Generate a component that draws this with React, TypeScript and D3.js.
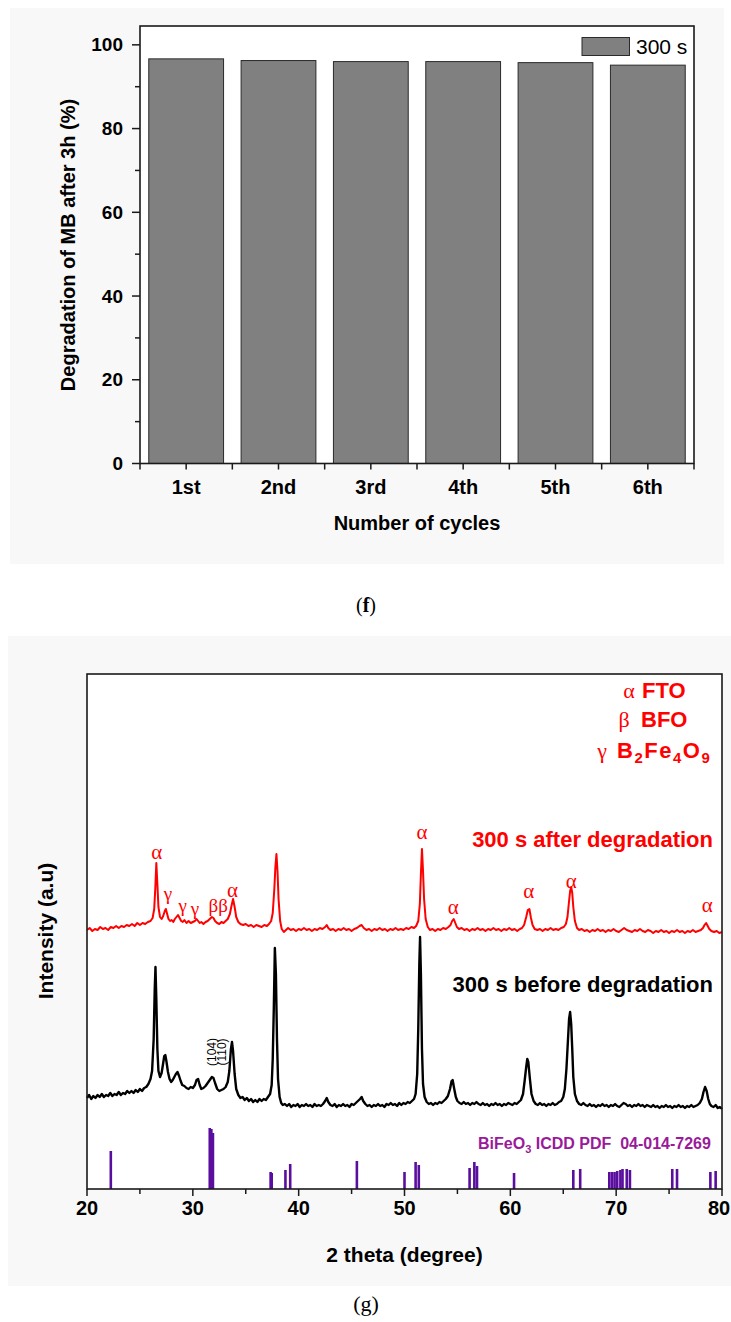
import * as d3 from "d3";

// ---- panel (f): cycling test ----
const cycles = ["1st", "2nd", "3rd", "4th", "5th", "6th"];
const degradation = [96.65, 96.25, 96.0, 96.0, 95.75, 95.15];
const fTicks = [0, 20, 40, 60, 80, 100];
const fMinor = [10, 30, 50, 70, 90];

// ---- panel (g): XRD patterns, [2theta, intensity a.u.] ----
const afterDeg: [number, number][] = [
  [20.0, 259], [20.25, 261], [20.5, 258], [20.75, 260], [21.0, 259], [21.25, 262], [21.5, 260], [21.75, 261],
  [22.0, 259], [22.25, 262], [22.5, 261], [22.75, 263], [23.0, 261], [23.25, 263], [23.5, 262], [23.75, 264],
  [24.0, 263], [24.25, 265], [24.5, 263], [24.75, 266], [25.0, 264], [25.25, 266], [25.5, 265], [25.75, 267],
  [26.0, 268], [26.2, 271], [26.35, 280], [26.45, 300], [26.55, 326], [26.65, 305], [26.75, 282], [26.9, 272],
  [27.05, 270], [27.2, 273], [27.35, 278], [27.45, 280], [27.55, 276], [27.7, 270], [27.85, 268], [28.0, 269],
  [28.15, 267], [28.3, 270], [28.45, 272], [28.6, 274], [28.75, 271], [28.9, 268], [29.05, 267], [29.2, 269],
  [29.4, 266], [29.6, 268], [29.8, 266], [30.0, 267], [30.2, 268], [30.35, 270], [30.5, 268], [30.65, 266],
  [30.8, 267], [31.0, 265], [31.2, 267], [31.4, 268], [31.6, 270], [31.8, 272], [31.95, 271], [32.1, 268],
  [32.3, 266], [32.5, 265], [32.7, 267], [32.9, 266], [33.1, 268], [33.3, 270], [33.5, 275], [33.65, 283],
  [33.8, 290], [33.95, 282], [34.1, 272], [34.3, 267], [34.5, 265], [34.75, 264], [35.0, 265], [35.25, 263],
  [35.5, 264], [35.75, 262], [36.0, 264], [36.25, 263], [36.5, 262], [36.75, 264], [37.0, 263], [37.2, 265],
  [37.4, 268], [37.55, 276], [37.7, 300], [37.8, 322], [37.9, 335], [38.0, 318], [38.1, 290], [38.25, 268],
  [38.4, 260], [38.6, 257], [38.8, 259], [39.0, 261], [39.25, 259], [39.5, 260], [39.75, 258], [40.0, 260],
  [40.25, 259], [40.5, 261], [40.75, 259], [41.0, 260], [41.25, 258], [41.5, 260], [41.75, 259], [42.0, 261],
  [42.25, 260], [42.5, 262], [42.65, 264], [42.8, 261], [43.0, 259], [43.25, 260], [43.5, 258], [43.75, 260],
  [44.0, 259], [44.25, 261], [44.5, 259], [44.75, 260], [45.0, 258], [45.25, 260], [45.5, 261], [45.75, 263],
  [45.95, 264], [46.15, 261], [46.4, 259], [46.65, 260], [46.9, 258], [47.15, 260], [47.4, 259], [47.65, 261],
  [47.9, 259], [48.15, 260], [48.4, 258], [48.65, 260], [48.9, 259], [49.15, 261], [49.4, 259], [49.65, 260],
  [49.9, 259], [50.15, 261], [50.4, 260], [50.65, 262], [50.9, 261], [51.1, 263], [51.3, 268], [51.45, 285],
  [51.55, 315], [51.65, 340], [51.75, 318], [51.85, 290], [52.0, 270], [52.2, 262], [52.4, 259], [52.65, 260],
  [52.9, 258], [53.15, 260], [53.4, 259], [53.65, 261], [53.9, 260], [54.15, 262], [54.35, 264], [54.5, 268],
  [54.65, 270], [54.8, 266], [54.95, 262], [55.15, 260], [55.4, 261], [55.65, 259], [55.9, 260], [56.15, 258],
  [56.4, 260], [56.65, 259], [56.9, 261], [57.15, 259], [57.4, 260], [57.65, 258], [57.9, 260], [58.15, 259],
  [58.4, 261], [58.65, 259], [58.9, 260], [59.15, 258], [59.4, 260], [59.65, 259], [59.9, 261], [60.15, 259],
  [60.4, 260], [60.65, 258], [60.9, 260], [61.1, 261], [61.3, 264], [61.5, 272], [61.65, 279], [61.8, 280],
  [61.95, 271], [62.1, 264], [62.3, 260], [62.55, 259], [62.8, 260], [63.05, 258], [63.3, 260], [63.55, 259],
  [63.8, 261], [64.05, 259], [64.3, 260], [64.55, 259], [64.8, 261], [65.05, 262], [65.25, 265], [65.4, 272],
  [65.55, 288], [65.65, 298], [65.75, 302], [65.85, 296], [65.95, 282], [66.1, 268], [66.3, 261], [66.5, 259],
  [66.75, 260], [67.0, 258], [67.25, 259], [67.5, 257], [67.75, 259], [68.0, 258], [68.25, 260], [68.5, 258],
  [68.75, 259], [69.0, 257], [69.25, 259], [69.5, 258], [69.75, 260], [70.0, 258], [70.25, 257], [70.5, 259],
  [70.75, 261], [71.0, 259], [71.25, 258], [71.5, 257], [71.75, 259], [72.0, 258], [72.25, 260], [72.5, 258],
  [72.75, 257], [73.0, 259], [73.25, 258], [73.5, 256], [73.75, 258], [74.0, 257], [74.25, 259], [74.5, 257],
  [74.75, 258], [75.0, 256], [75.25, 258], [75.5, 257], [75.75, 259], [76.0, 257], [76.25, 258], [76.5, 256],
  [76.75, 258], [77.0, 257], [77.25, 259], [77.5, 257], [77.75, 258], [78.0, 259], [78.2, 261], [78.35, 264],
  [78.5, 266], [78.65, 263], [78.8, 260], [79.0, 258], [79.25, 257], [79.5, 258], [79.75, 256], [80.0, 257],
];

const beforeDeg: [number, number][] = [
  [20.0, 91], [20.2, 94], [20.4, 90], [20.6, 93], [20.8, 91], [21.0, 94], [21.2, 92], [21.4, 95], [21.6, 92],
  [21.8, 94], [22.0, 93], [22.2, 96], [22.4, 93], [22.6, 95], [22.8, 94], [23.0, 97], [23.2, 94], [23.4, 96],
  [23.6, 95], [23.8, 98], [24.0, 96], [24.2, 98], [24.4, 96], [24.6, 99], [24.8, 97], [25.0, 100], [25.2, 98],
  [25.4, 101], [25.6, 102], [25.8, 105], [26.0, 110], [26.15, 118], [26.3, 150], [26.4, 200], [26.47, 222],
  [26.55, 190], [26.65, 140], [26.75, 118], [26.9, 112], [27.05, 116], [27.2, 126], [27.3, 133], [27.4, 134],
  [27.5, 128], [27.65, 117], [27.8, 110], [27.95, 107], [28.1, 109], [28.25, 112], [28.4, 115], [28.55, 117],
  [28.7, 113], [28.85, 108], [29.0, 104], [29.2, 103], [29.4, 101], [29.6, 100], [29.8, 102], [30.0, 101],
  [30.2, 104], [30.35, 109], [30.5, 110], [30.65, 104], [30.8, 100], [31.0, 101], [31.2, 103], [31.4, 106],
  [31.6, 109], [31.8, 112], [31.95, 111], [32.1, 106], [32.3, 100], [32.5, 98], [32.7, 99], [32.9, 100],
  [33.1, 102], [33.3, 107], [33.45, 118], [33.6, 140], [33.7, 147], [33.8, 138], [33.95, 115], [34.1, 100],
  [34.3, 94], [34.5, 91], [34.7, 92], [34.9, 89], [35.1, 91], [35.3, 88], [35.5, 90], [35.7, 87], [35.9, 89],
  [36.1, 87], [36.3, 90], [36.5, 88], [36.7, 90], [36.9, 89], [37.1, 92], [37.3, 95], [37.45, 104], [37.55, 130],
  [37.65, 180], [37.75, 241], [37.85, 215], [37.95, 150], [38.05, 110], [38.2, 92], [38.35, 86], [38.5, 84],
  [38.7, 85], [38.9, 83], [39.1, 85], [39.3, 82], [39.5, 84], [39.7, 83], [39.9, 85], [40.1, 82], [40.3, 84],
  [40.5, 83], [40.7, 85], [40.9, 83], [41.1, 84], [41.3, 82], [41.5, 85], [41.7, 83], [41.9, 84], [42.1, 83],
  [42.3, 85], [42.5, 88], [42.65, 91], [42.8, 87], [43.0, 84], [43.2, 83], [43.4, 85], [43.6, 82], [43.8, 84],
  [44.0, 83], [44.2, 85], [44.4, 83], [44.6, 84], [44.8, 82], [45.0, 85], [45.2, 84], [45.4, 86], [45.6, 88],
  [45.8, 90], [45.95, 92], [46.1, 88], [46.3, 85], [46.5, 83], [46.7, 84], [46.9, 82], [47.1, 84], [47.3, 83],
  [47.5, 85], [47.7, 83], [47.9, 84], [48.1, 82], [48.3, 85], [48.5, 84], [48.7, 86], [48.9, 84], [49.1, 85],
  [49.3, 83], [49.5, 86], [49.7, 84], [49.9, 86], [50.1, 85], [50.3, 87], [50.5, 86], [50.7, 88], [50.9, 90],
  [51.05, 95], [51.2, 115], [51.3, 160], [51.4, 225], [51.47, 252], [51.55, 215], [51.65, 140], [51.75, 105],
  [51.9, 92], [52.1, 87], [52.3, 85], [52.5, 86], [52.7, 84], [52.9, 86], [53.1, 85], [53.3, 87], [53.5, 86],
  [53.7, 88], [53.9, 90], [54.1, 93], [54.3, 100], [54.45, 108], [54.55, 109], [54.7, 100], [54.85, 92],
  [55.0, 88], [55.2, 86], [55.4, 85], [55.6, 87], [55.8, 85], [56.0, 86], [56.2, 84], [56.4, 86], [56.6, 85],
  [56.8, 87], [57.0, 85], [57.2, 84], [57.4, 86], [57.6, 84], [57.8, 85], [58.0, 83], [58.2, 85], [58.4, 84],
  [58.6, 86], [58.8, 84], [59.0, 85], [59.2, 83], [59.4, 85], [59.6, 84], [59.8, 86], [60.0, 85], [60.2, 84],
  [60.4, 86], [60.6, 85], [60.8, 87], [61.0, 89], [61.2, 95], [61.35, 108], [61.5, 122], [61.6, 130],
  [61.7, 127], [61.85, 110], [62.0, 95], [62.2, 88], [62.4, 85], [62.6, 84], [62.8, 86], [63.0, 84], [63.2, 85],
  [63.4, 83], [63.6, 85], [63.8, 84], [64.0, 86], [64.2, 84], [64.4, 85], [64.6, 87], [64.8, 88], [65.0, 92],
  [65.15, 100], [65.3, 120], [65.45, 150], [65.55, 170], [65.65, 177], [65.75, 165], [65.85, 140], [65.95, 112],
  [66.1, 95], [66.3, 88], [66.5, 85], [66.7, 84], [66.9, 86], [67.1, 84], [67.3, 83], [67.5, 85], [67.7, 83],
  [67.9, 84], [68.1, 82], [68.3, 84], [68.5, 83], [68.7, 85], [68.9, 83], [69.1, 84], [69.3, 82], [69.5, 84],
  [69.7, 83], [69.9, 85], [70.1, 83], [70.3, 82], [70.5, 84], [70.7, 86], [70.9, 85], [71.1, 83], [71.3, 84],
  [71.5, 82], [71.7, 84], [71.9, 83], [72.1, 85], [72.3, 83], [72.5, 84], [72.7, 82], [72.9, 84], [73.1, 83],
  [73.3, 82], [73.5, 84], [73.7, 82], [73.9, 83], [74.1, 81], [74.3, 83], [74.5, 82], [74.7, 84], [74.9, 82],
  [75.1, 83], [75.3, 81], [75.5, 83], [75.7, 82], [75.9, 84], [76.1, 82], [76.3, 83], [76.5, 81], [76.7, 83],
  [76.9, 82], [77.1, 84], [77.3, 82], [77.5, 83], [77.7, 84], [77.9, 86], [78.1, 90], [78.25, 97], [78.4, 102],
  [78.55, 98], [78.7, 90], [78.85, 85], [79.0, 83], [79.2, 82], [79.4, 84], [79.6, 81], [79.8, 82], [80.0, 80],
];

// BiFeO3 reference lines (ICDD 04-014-7269)
const refPos = [22.25, 31.6, 31.75, 31.9, 37.35, 37.45, 38.75, 39.2, 45.5, 50.0, 51.05, 51.35, 56.15, 56.6, 56.85,
  60.35, 65.95, 66.6, 69.35, 69.6, 69.85, 70.1, 70.4, 70.6, 71.0, 71.3, 75.3, 75.75, 78.9, 79.4];
const refInt = [38, 61, 60, 56, 17, 16, 19, 25, 28, 17, 27, 24, 21, 27, 23,
  16, 19, 20, 17, 17, 17, 18, 19, 20, 20, 19, 20, 20, 17, 18];

// phase markers on the "after" pattern: symbol, 2theta, intensity level
const markSym = ["α", "γ", "γ", "γ", "ββ", "α", "α", "α", "α", "α", "α"];
const markPos = [26.6, 27.65, 29.05, 30.2, 32.4, 33.75, 51.65, 54.6, 61.75, 65.75, 78.6];
const markInt = [337, 296, 284, 281, 284, 299, 357, 282, 298, 308, 284];

const gTicks = [20, 30, 40, 50, 60, 70, 80];
const gMinor = [25, 35, 45, 55, 65, 75];

const SANS = "'Liberation Sans', Arial, Helvetica, sans-serif";
const SERIF = "'Liberation Serif', 'Times New Roman', serif";

export default function App() {
  // panel f scales
  const fx = d3.scaleBand<string>().domain(cycles).range([140, 694]).paddingInner(0.19).paddingOuter(0.095);
  const fy = d3.scaleLinear().domain([0, 104.5]).range([463.5, 26]);
  const step = fx.step();

  // panel g scales
  const gx = d3.scaleLinear().domain([20, 80]).range([87, 722]);
  const gy = d3.scaleLinear().domain([0, 515]).range([1189, 674]);
  const line = d3.line<[number, number]>().x((d) => gx(d[0])).y((d) => gy(d[1]));

  const bold = { fontFamily: SANS, fontWeight: 700 } as const;

  return (
    <svg
      width={731}
      height={1322}
      style={{ position: "absolute", left: 0, top: 0, display: "block", background: "#fff" }}
    >
      {/* figure backgrounds */}
      <rect x={10} y={8} width={714} height={556} fill="#f8f8f8" />
      <rect x={8} y={636} width={723} height={650} fill="#f8f8f8" />

      {/* ================= panel f ================= */}
      <rect x={140} y={26} width={554} height={437.5} fill="#fff" />
      {cycles.map((c, i) => (
        <rect
          key={c}
          x={fx(c)}
          y={fy(degradation[i])}
          width={fx.bandwidth()}
          height={fy(0) - fy(degradation[i])}
          fill="#808080"
          stroke="#2a2a2a"
          strokeWidth={1}
        />
      ))}
      <rect x={140} y={26} width={554} height={437.5} fill="none" stroke="#1a1a1a" strokeWidth={1.6} />
      {fTicks.map((t) => (
        <g key={t}>
          <line x1={132} x2={140} y1={fy(t)} y2={fy(t)} stroke="#1a1a1a" strokeWidth={1.5} />
          <text x={123} y={fy(t)} textAnchor="end" dominantBaseline="central" fontSize={19} {...bold}>
            {t}
          </text>
        </g>
      ))}
      {fMinor.map((t) => (
        <line key={t} x1={135} x2={140} y1={fy(t)} y2={fy(t)} stroke="#1a1a1a" strokeWidth={1.5} />
      ))}
      {d3.range(0, 7).map((i) => (
        <line key={i} x1={140 + i * step} x2={140 + i * step} y1={463.5} y2={469.5} stroke="#1a1a1a" strokeWidth={1.5} />
      ))}
      {cycles.map((c) => (
        <g key={c}>
          <line
            x1={fx(c)! + fx.bandwidth() / 2}
            x2={fx(c)! + fx.bandwidth() / 2}
            y1={463.5}
            y2={469.5}
            stroke="#1a1a1a"
            strokeWidth={1.5}
          />
          <text x={fx(c)! + fx.bandwidth() / 2} y={494} textAnchor="middle" fontSize={20} {...bold}>
            {c}
          </text>
        </g>
      ))}
      <text x={417} y={530} textAnchor="middle" fontSize={20} {...bold}>
        Number of cycles
      </text>
      <text
        transform="translate(68,245) rotate(-90)"
        textAnchor="middle"
        dominantBaseline="central"
        fontSize={20}
        {...bold}
      >
        Degradation of MB after 3h (%)
      </text>
      {/* legend */}
      <rect x={582} y={37.5} width={47.5} height={18} fill="#808080" stroke="#2a2a2a" strokeWidth={1} />
      <text x={636} y={54} fontSize={21} fontFamily={SANS}>
        300 s
      </text>
      <text x={366} y={612} textAnchor="middle" fontSize={20} fontFamily={SERIF}>
        (<tspan fontWeight={700}>f</tspan>)
      </text>

      {/* ================= panel g ================= */}
      <rect x={87} y={674} width={635} height={515} fill="#fff" />
      {refPos.map((p, i) => (
        <line
          key={i}
          x1={gx(p)}
          x2={gx(p)}
          y1={gy(0)}
          y2={gy(refInt[i])}
          stroke="#5a0e9e"
          strokeWidth={2.6}
        />
      ))}
      <path d={line(beforeDeg) ?? ""} fill="none" stroke="#000" strokeWidth={2.4} strokeLinejoin="round" />
      <path d={line(afterDeg) ?? ""} fill="none" stroke="#ff0000" strokeWidth={2} strokeLinejoin="round" />
      <rect x={87} y={674} width={635} height={515} fill="none" stroke="#1a1a1a" strokeWidth={1.6} />
      {gTicks.map((t) => (
        <g key={t}>
          <line x1={gx(t)} x2={gx(t)} y1={1189} y2={1196} stroke="#1a1a1a" strokeWidth={1.5} />
          <text x={Math.min(gx(t), 719)} y={1215} textAnchor="middle" fontSize={20} {...bold}>
            {t}
          </text>
        </g>
      ))}
      {gMinor.map((t) => (
        <line key={t} x1={gx(t)} x2={gx(t)} y1={1189} y2={1194} stroke="#1a1a1a" strokeWidth={1.5} />
      ))}
      <text x={404.5} y={1262} textAnchor="middle" fontSize={21} {...bold}>
        2 theta (degree)
      </text>
      <text
        transform="translate(45,931) rotate(-90)"
        textAnchor="middle"
        dominantBaseline="central"
        fontSize={21}
        {...bold}
      >
        Intensity (a.u)
      </text>

      {/* phase markers */}
      {markSym.map((s, i) => (
        <text
          key={i}
          x={gx(markPos[i])}
          y={gy(markInt[i])}
          textAnchor="middle"
          dominantBaseline="central"
          fontSize={s === "α" ? 21 : 19}
          fontFamily={SERIF}
          fill="#ff0000"
        >
          {s}
        </text>
      ))}
      <text transform="translate(212,1052) rotate(-90)" textAnchor="middle" dominantBaseline="central" fontSize={12} fontFamily={SANS}>
        (104)
      </text>
      <text transform="translate(222,1052) rotate(-90)" textAnchor="middle" dominantBaseline="central" fontSize={12} fontFamily={SANS}>
        (110)
      </text>

      <text x={713} y={847} textAnchor="end" fontSize={22} fill="#ff0000" {...bold}>
        300 s after degradation
      </text>
      <text x={713} y={992} textAnchor="end" fontSize={22} fill="#000" {...bold}>
        300 s before degradation
      </text>

      {/* phase legend */}
      <g fill="#ff0000">
        <text x={629} y={698} textAnchor="middle" fontSize={22} fontFamily={SERIF}>α</text>
        <text x={642} y={698} fontSize={22} {...bold}>FTO</text>
        <text x={624} y={727} textAnchor="middle" fontSize={22} fontFamily={SERIF}>β</text>
        <text x={641} y={727} fontSize={22} {...bold}>BFO</text>
        <text x={602} y={758} textAnchor="middle" fontSize={22} fontFamily={SERIF}>γ</text>
        <text x={617} y={758} fontSize={22} letterSpacing={1.5} {...bold}>
          B<tspan fontSize={15} dy={5}>2</tspan>
          <tspan dy={-5}>Fe</tspan>
          <tspan fontSize={15} dy={5}>4</tspan>
          <tspan dy={-5}>O</tspan>
          <tspan fontSize={15} dy={5}>9</tspan>
        </text>
      </g>

      <text x={478} y={1149} fontSize={16} fill="#9a1a9a" style={{ whiteSpace: "pre" }} {...bold}>
        BiFeO<tspan fontSize={11} dy={4}>3</tspan>
        <tspan dy={-4}>{" ICDD PDF  04-014-7269"}</tspan>
      </text>

      <text x={366} y={1311} textAnchor="middle" fontSize={22} fontFamily={SERIF}>
        (g)
      </text>
    </svg>
  );
}
